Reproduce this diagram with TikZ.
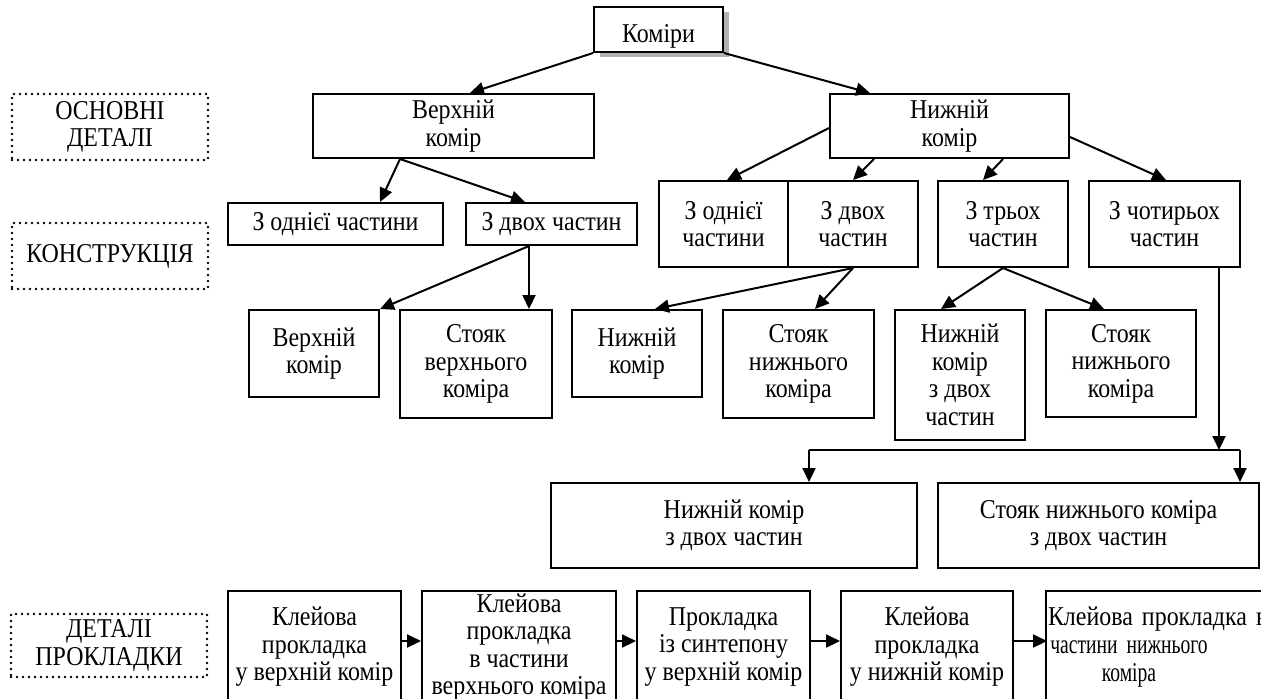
\documentclass[tikz,border=0pt]{standalone}
\usepackage{fontspec}
\setmainfont{Liberation Serif}[FakeStretch=0.88]
\newfontfamily\narrowfont{Liberation Serif}[FakeStretch=0.72]
\usetikzlibrary{calc,arrows.meta,shadows}

\begin{document}
\begin{tikzpicture}
  [>={Triangle[length=7pt,width=6.5pt]}, x=0.5pt, y=-0.5pt]

% page frame (pixels, y down)
\useasboundingbox (0,0) rectangle (1261,698);
\clip (0,0) rectangle (1261,698);

% define styles
\tikzstyle{blk} = [draw, rectangle, line width=1pt, align=center, inner sep=1pt, font=\fontsize{13.6}{13.8}\selectfont];
\tikzstyle{lvl} = [blk, line width=1.3pt, dash pattern=on 0pt off 3pt, line cap=round];
\tikzstyle{con} = [->, line width=1pt];

% box from (x1,y1) to (x2,y2)
\newcommand{\blk}[7][blk]{
  \node[#1, minimum width={(#5-#3)*0.5pt}, minimum height={(#6-#4)*0.5pt}]
    (#2) at ({(#3+#5)/2},{(#4+#6)/2}) {#7};
}

% level labels
\blk[lvl]{osn}{12}{94}{208}{160}{ОСНОВНІ\\ДЕТАЛІ}
\blk[lvl]{kon}{12}{223}{208}{289}{КОНСТРУКЦІЯ}
\blk[lvl]{prk}{11}{614}{207}{677}{ДЕТАЛІ\\ПРОКЛАДКИ}

% main parts
\blk[blk, fill=white, text height=15.5pt, text depth=3pt,
  drop shadow={shadow xshift=3pt, shadow yshift=-2.5pt, fill=gray!60, opacity=1, draw=none}]{komiry}{594}{7}{723}{52}{Коміри}
\blk{verkh}{313}{94}{594}{158}{Верхній\\комір}
\blk{nyzh}{830}{94}{1069}{158}{Нижній\\комір}

% construction
\blk{v1}{228}{203}{443}{245}{З однієї частини}
\blk{v2}{466}{203}{637}{245}{З двох частин}
\blk{n1}{659}{181}{788}{267}{З однієї\\частини}
\blk{n2}{788}{181}{918}{267}{З двох\\частин}
\blk{n3}{938}{181}{1068}{267}{З трьох\\частин}
\blk{n4}{1089}{181}{1240}{267}{З чотирьох\\частин}

\blk{s1}{249}{310}{379}{397}{Верхній\\комір}
\blk{s2}{400}{310}{552}{418}{Стояк\\верхнього\\коміра}
\blk{s3}{572}{310}{702}{397}{Нижній\\комір}
\blk{s4}{723}{310}{874}{418}{Стояк\\нижнього\\коміра}
\blk{s5}{895}{310}{1025}{440}{Нижній\\комір\\з двох\\частин}
\blk{s6}{1046}{310}{1196}{417}{Стояк\\нижнього\\коміра}

\blk{t1}{551}{483}{917}{568}{Нижній комір\\з двох частин}
\blk{t2}{938}{483}{1259}{568}{Стояк нижнього коміра\\з двох частин}

% interlinings
\blk{p1}{228}{591}{401}{703}{Клейова\\прокладка\\у верхній комір}
\blk{p2}{422}{591}{616}{703}{Клейова\\прокладка\\в частини\\верхнього коміра}
\blk{p3}{637}{591}{810}{703}{Прокладка\\із синтепону\\у верхній комір}
\blk{p4}{841}{591}{1013}{703}{Клейова\\прокладка\\у нижній комір}
% last one runs off the page
\node[blk, draw=none, text width=81pt, inner sep=0pt, anchor=west] (p5) at (1047,647)
  {\mbox{Клейова прокладка в}\\\mbox{\narrowfont частини нижнього}\\\mbox{\narrowfont коміра}};
\draw[line width=1pt] (1046,591) rectangle (1275,710);

% top level
\draw[con] (komiry.south west) -- ($(verkh.north)+(16.5,0)$);
\draw[con] (komiry.south east) -- ($(nyzh.north)+(-79.5,0)$);

% upper collar
\coordinate (vs) at ($(verkh.south)+(-53.5,0)$);
\draw[con] (vs) -- ($(v1.north)+(44.5,0)$);
\draw[con] (vs) -- ($(v2.north)+(-26.5,0)$);

% under collar
\draw[con] ($(nyzh.west)+(0,2)$) -- ($(n1.north)+(3.5,0)$);
\draw[con] ($(nyzh.south)+(-75.5,0)$) -- (n2.north);
\draw[con] ($(nyzh.south)+(53.5,0)$) -- ($(n3.north)+(-20,0)$);
\draw[con] ($(nyzh.east)+(0,11)$) -- ($(n4.north)+(1.5,0)$);

% pieces
\coordinate (ws) at ($(v2.south)+(-22.5,0)$);
\draw[con] (ws) -- (s1.north east);
\draw[con] (ws) -- (ws |- s2.north);
\draw[con] (n2.south) -- ($(s3.north)+(18,0)$);
\draw[con] (n2.south) -- ($(s4.north)+(16.5,0)$);
\draw[con] (n3.south) -- ($(s5.north)+(-19,0)$);
\draw[con] (n3.south) -- ($(s6.north)+(-17,0)$);

% four pieces -> two-piece parts
\coordinate (busL) at (809,450);
\coordinate (busM) at (1219,450);
\coordinate (busR) at (1240,450);
\draw[con] (n4.south -| busM) -- (busM);
\draw[line width=1pt] (busL) -- (busR);
\draw[con] (busL) -- (busL |- t1.north);
\draw[con] (busR) -- (busR |- t2.north);

% interlining chain
\foreach \a/\b in {p1/p2, p2/p3, p3/p4, p4/p5}
  \draw[con] ([yshift=3pt]\a.east) -- ([yshift=3pt]\b.west);

\end{tikzpicture}
\end{document}
